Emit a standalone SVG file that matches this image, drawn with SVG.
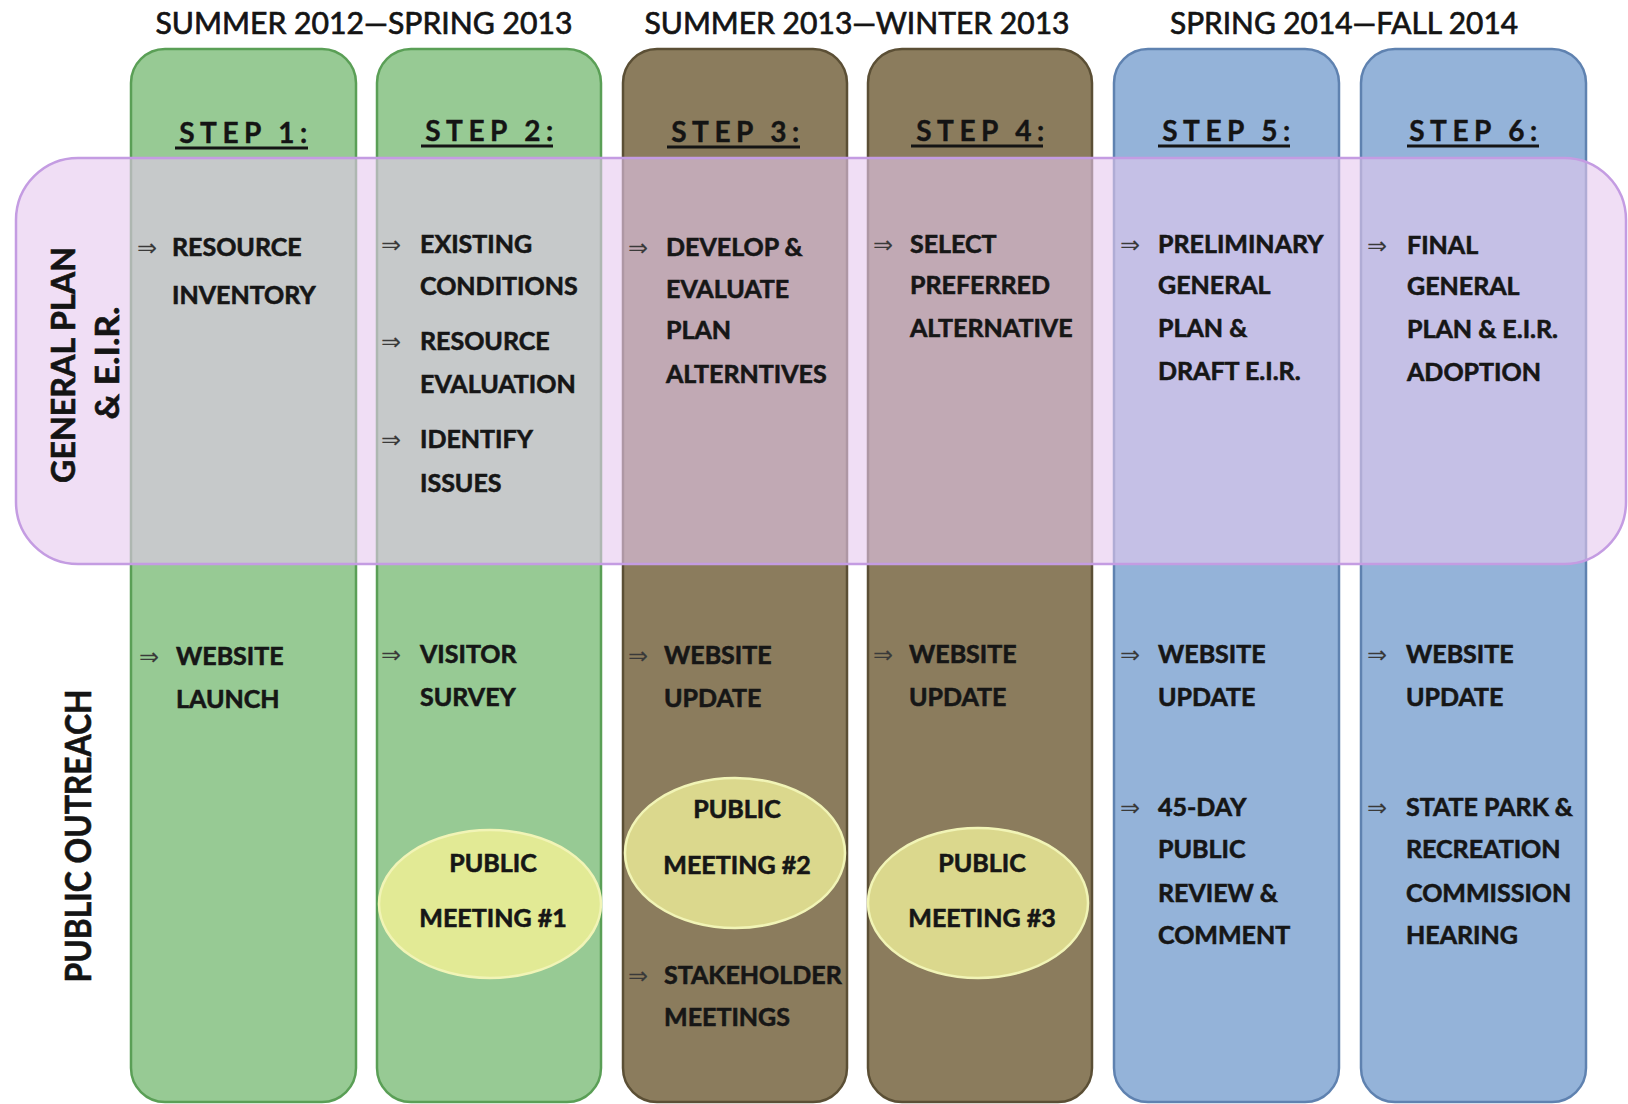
<svg xmlns="http://www.w3.org/2000/svg" width="1628" height="1104" viewBox="0 0 1628 1104">
<style>
.col{stroke-width:2.5}
.green{fill:#97ca94;stroke:#5a9f56}
.brown{fill:#8b7c5d;stroke:#5b4f35}
.blue{fill:#94b3d9;stroke:#5f82b0}
.band{fill:#e6c8ee;fill-opacity:0.6;stroke:#c49ce2;stroke-width:2.5}
.ell{stroke:#f1f4b6;stroke-width:2.5}
.hdr{font-family:Lato,"Liberation Sans",sans-serif;font-size:30px;fill:#141414;stroke:#141414;stroke-width:0.7;text-anchor:middle}
.step{font-family:Lato,"Liberation Sans",sans-serif;font-size:28px;font-weight:bold;fill:#141414;stroke:#141414;stroke-width:0.4;text-anchor:middle;letter-spacing:5.5px}
.ul{stroke:#141414;stroke-width:3}
.t{font-family:Lato,"Liberation Sans",sans-serif;font-size:25px;font-weight:bold;fill:#161616;stroke:#161616;stroke-width:0.6}
.tc{font-family:Lato,"Liberation Sans",sans-serif;font-size:25px;font-weight:bold;fill:#161616;stroke:#161616;stroke-width:0.6;text-anchor:middle}
.ar{font-family:"DejaVu Sans",sans-serif;font-size:24px;fill:#3a3a3a}
.side{font-family:Lato,"Liberation Sans",sans-serif;font-size:32px;font-weight:bold;fill:#141414;stroke:#141414;stroke-width:0.6;text-anchor:middle}
</style>

<g id="headers">
<text class="hdr" x="364" y="34" textLength="417" lengthAdjust="spacingAndGlyphs">SUMMER 2012—SPRING 2013</text>
<text class="hdr" x="857" y="34" textLength="425" lengthAdjust="spacingAndGlyphs">SUMMER 2013—WINTER 2013</text>
<text class="hdr" x="1344" y="34" textLength="348" lengthAdjust="spacingAndGlyphs">SPRING 2014—FALL 2014</text>
</g>

<g id="columns">
<g id="col1"><rect class="col green" x="131" y="49" width="225" height="1053" rx="34"/></g>
<g id="col2"><rect class="col green" x="377" y="49" width="224" height="1053" rx="34"/></g>
<g id="col3"><rect class="col brown" x="623" y="49" width="224" height="1053" rx="34"/></g>
<g id="col4"><rect class="col brown" x="868" y="49" width="224" height="1053" rx="34"/></g>
<g id="col5"><rect class="col blue" x="1114" y="49" width="225" height="1053" rx="34"/></g>
<g id="col6"><rect class="col blue" x="1361" y="49" width="225" height="1053" rx="34"/></g>
</g>

<g id="band-general-plan">
<rect class="band" x="16" y="158" width="1610" height="406" rx="62"/>
<text class="side" transform="translate(75,365) rotate(-90)" textLength="236" lengthAdjust="spacingAndGlyphs">GENERAL PLAN</text>
<text class="side" transform="translate(119,363) rotate(-90)" textLength="113" lengthAdjust="spacingAndGlyphs">&amp; E.I.R.</text>
</g>

<g id="label-public-outreach">
<text class="side" style="font-size:36px" transform="translate(91,836) rotate(-90)" textLength="293" lengthAdjust="spacingAndGlyphs">PUBLIC OUTREACH</text>
</g>

<g id="connectors"></g>

<g id="step-labels">
<text class="step" x="246" y="143">STEP 1:</text>
<line class="ul" x1="175" y1="148" x2="308" y2="148"/>
<text class="step" x="492" y="141">STEP 2:</text>
<line class="ul" x1="421" y1="146" x2="553" y2="146"/>
<text class="step" x="738" y="142">STEP 3:</text>
<line class="ul" x1="667" y1="147" x2="800" y2="147"/>
<text class="step" x="983" y="141">STEP 4:</text>
<line class="ul" x1="911" y1="146" x2="1043" y2="146"/>
<text class="step" x="1229" y="141">STEP 5:</text>
<line class="ul" x1="1158" y1="146" x2="1290" y2="146"/>
<text class="step" x="1476" y="141">STEP 6:</text>
<line class="ul" x1="1407" y1="146" x2="1539" y2="146"/>
</g>

<g id="step1-plan">
<text class="ar" x="137" y="256">⇒</text>
<text class="t" x="172" y="256">RESOURCE</text>
<text class="t" x="172" y="304">INVENTORY</text>
</g>
<g id="step2-plan">
<text class="ar" x="381" y="253">⇒</text>
<text class="t" x="420" y="253">EXISTING</text>
<text class="t" x="420" y="295">CONDITIONS</text>
<text class="ar" x="381" y="350">⇒</text>
<text class="t" x="420" y="350">RESOURCE</text>
<text class="t" x="420" y="393">EVALUATION</text>
<text class="ar" x="381" y="448">⇒</text>
<text class="t" x="420" y="448">IDENTIFY</text>
<text class="t" x="420" y="492">ISSUES</text>
</g>
<g id="step3-plan">
<text class="ar" x="628" y="256">⇒</text>
<text class="t" x="666" y="256">DEVELOP &amp;</text>
<text class="t" x="666" y="298">EVALUATE</text>
<text class="t" x="666" y="339">PLAN</text>
<text class="t" x="666" y="383">ALTERNTIVES</text>
</g>
<g id="step4-plan">
<text class="ar" x="873" y="253">⇒</text>
<text class="t" x="910" y="253">SELECT</text>
<text class="t" x="910" y="294">PREFERRED</text>
<text class="t" x="910" y="337">ALTERNATIVE</text>
</g>
<g id="step5-plan">
<text class="ar" x="1120" y="253">⇒</text>
<text class="t" x="1158" y="253">PRELIMINARY</text>
<text class="t" x="1158" y="294">GENERAL</text>
<text class="t" x="1158" y="337">PLAN &amp;</text>
<text class="t" x="1158" y="380">DRAFT E.I.R.</text>
</g>
<g id="step6-plan">
<text class="ar" x="1367" y="254">⇒</text>
<text class="t" x="1407" y="254">FINAL</text>
<text class="t" x="1407" y="295">GENERAL</text>
<text class="t" x="1407" y="338">PLAN &amp; E.I.R.</text>
<text class="t" x="1407" y="381">ADOPTION</text>
</g>

<g id="step1-outreach">
<text class="ar" x="139" y="665">⇒</text>
<text class="t" x="176" y="665">WEBSITE</text>
<text class="t" x="176" y="708">LAUNCH</text>
</g>
<g id="step2-outreach">
<text class="ar" x="381" y="663">⇒</text>
<text class="t" x="420" y="663">VISITOR</text>
<text class="t" x="420" y="706">SURVEY</text>
</g>
<g id="step3-outreach">
<text class="ar" x="628" y="664">⇒</text>
<text class="t" x="664" y="664">WEBSITE</text>
<text class="t" x="664" y="707">UPDATE</text>
<text class="ar" x="628" y="984">⇒</text>
<text class="t" x="664" y="984">STAKEHOLDER</text>
<text class="t" x="664" y="1026">MEETINGS</text>
</g>
<g id="step4-outreach">
<text class="ar" x="873" y="663">⇒</text>
<text class="t" x="909" y="663">WEBSITE</text>
<text class="t" x="909" y="706">UPDATE</text>
</g>
<g id="step5-outreach">
<text class="ar" x="1120" y="663">⇒</text>
<text class="t" x="1158" y="663">WEBSITE</text>
<text class="t" x="1158" y="706">UPDATE</text>
<text class="ar" x="1120" y="816">⇒</text>
<text class="t" x="1158" y="816">45-DAY</text>
<text class="t" x="1158" y="858">PUBLIC</text>
<text class="t" x="1158" y="902">REVIEW &amp;</text>
<text class="t" x="1158" y="944">COMMENT</text>
</g>
<g id="step6-outreach">
<text class="ar" x="1367" y="663">⇒</text>
<text class="t" x="1406" y="663">WEBSITE</text>
<text class="t" x="1406" y="706">UPDATE</text>
<text class="ar" x="1367" y="816">⇒</text>
<text class="t" x="1406" y="816">STATE PARK &amp;</text>
<text class="t" x="1406" y="858">RECREATION</text>
<text class="t" x="1406" y="902">COMMISSION</text>
<text class="t" x="1406" y="944">HEARING</text>
</g>

<g id="public-meeting-1">
<ellipse class="ell" cx="490" cy="904" rx="111" ry="74" fill="#e2ea95"/>
<text class="tc" x="493" y="872">PUBLIC</text>
<text class="tc" x="493" y="927">MEETING #1</text>
</g>
<g id="public-meeting-2">
<ellipse class="ell" cx="735" cy="853" rx="110" ry="75" fill="#dbd88d"/>
<text class="tc" x="737" y="818">PUBLIC</text>
<text class="tc" x="737" y="874">MEETING #2</text>
</g>
<g id="public-meeting-3">
<ellipse class="ell" cx="978" cy="903" rx="110" ry="75" fill="#dbd88d"/>
<text class="tc" x="982" y="872">PUBLIC</text>
<text class="tc" x="982" y="927">MEETING #3</text>
</g>
</svg>
